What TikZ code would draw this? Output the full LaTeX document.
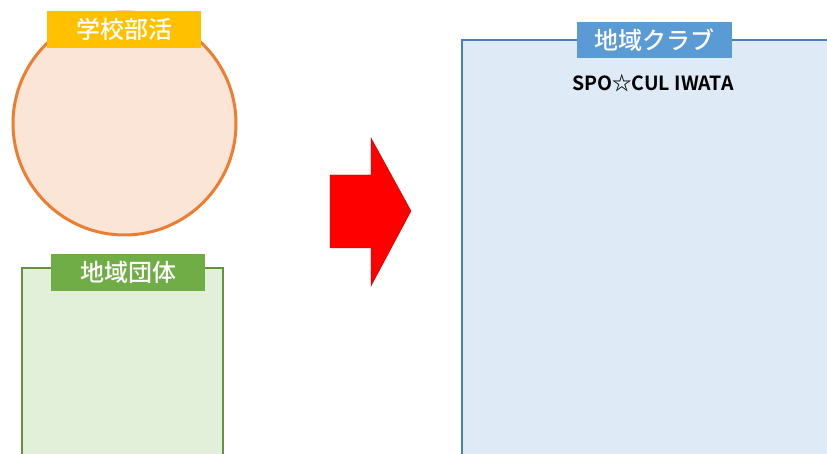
\documentclass[tikz,border=0pt]{standalone}
\usepackage{fontspec}
\newfontfamily\cjk{Noto Sans CJK JP Medium}
\newfontfamily\cjkb{Noto Sans CJK JP Bold}
\definecolor{orgline}{HTML}{ED7D31}
\definecolor{orgfill}{HTML}{FBE5D6}
\definecolor{ylw}{HTML}{FFC000}
\definecolor{grnline}{HTML}{62933F}
\definecolor{grnfill}{HTML}{E2F0D9}
\definecolor{grnlab}{HTML}{70AD47}
\definecolor{blueline}{HTML}{4680BA}
\definecolor{bluefill}{HTML}{DEEBF7}
\definecolor{bluelab}{HTML}{5B9BD5}
\tikzset{
  lab/.style={inner sep=0pt, minimum width=154pt, minimum height=37pt, text=white, font=\cjk\fontsize{24}{24}\selectfont},
}
\begin{document}
\begin{tikzpicture}[x=1pt,y=-1pt]
\useasboundingbox (0,0) rectangle (827,454);
\clip (0,0) rectangle (827,454);
% school club circle
\node (circ) [circle, draw=orgline, fill=orgfill, line width=3pt, minimum size=223pt, inner sep=0pt] at (124.5,123.5) {};
\node (school) [lab, fill=ylw] at (124,29.5) {学校部活};
% community group box
\draw[draw=grnline, fill=grnfill, line width=2.4pt] (22,268) rectangle (223,470);
\node (group) [lab, fill=grnlab] at (128,272.5) {地域団体};
% arrow
\path[fill=red, draw=red!70!black, line width=0.4pt] (330,175) -- (371,175) -- (371,138) -- (411,211) -- (371,286) -- (371,248) -- (330,248) -- cycle;
% club box
\draw[draw=blueline, fill=bluefill, line width=2.4pt] (462,40) rectangle (860,480);
\node (club) [lab, fill=bluelab, minimum width=155pt, minimum height=36pt] at (654.5,40) {地域クラブ};
\node (name) [font=\cjkb\fontsize{19.5}{19.5}\selectfont, inner sep=0pt] at (653,83) {SPO☆CUL IWATA};
\end{tikzpicture}
\end{document}
